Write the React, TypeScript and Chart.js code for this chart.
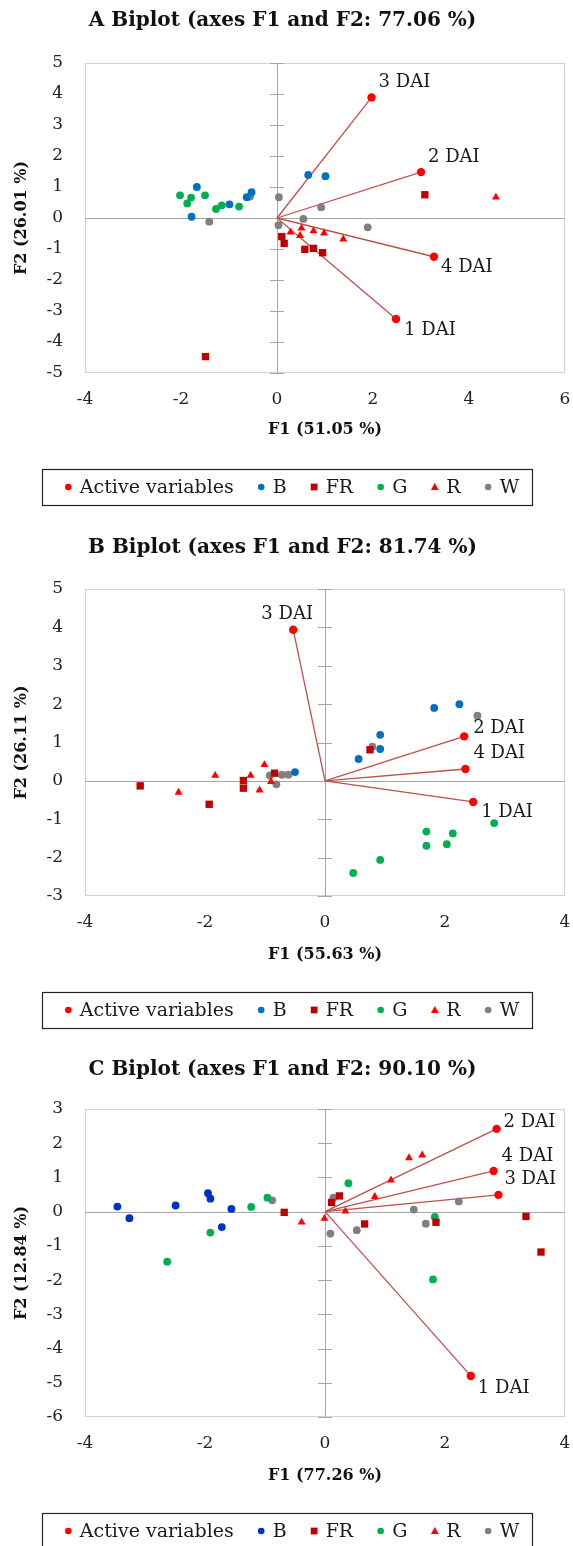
import React, { useEffect, useRef } from 'react';
import { Chart, registerables } from 'chart.js';

Chart.register(...registerables);

// ---------------- DATA ----------------
const GROUP_LABELS = ['Active variables', 'B', 'FR', 'G', 'R', 'W'];
const VAR_LABELS = ['1 DAI', '2 DAI', '3 DAI', '4 DAI'];

// Panel A
const A_TITLE = 'A Biplot (axes F1 and F2: 77.06 %)';
const A_X_TITLE = 'F1 (51.05 %)';
const A_Y_TITLE = 'F2 (26.01 %)';
const A_ACTIVE = [[2.48, -3.26], [3.0, 1.48], [1.97, 3.89], [3.27, -1.25]];
const A_B = [[-1.67, 1.0], [-1.78, 0.04], [-0.99, 0.44], [-0.63, 0.67], [-0.53, 0.83], [0.65, 1.39], [1.01, 1.35]];
const A_FR = [[0.1, -0.6], [0.15, -0.82], [0.58, -1.01], [0.76, -0.98], [0.95, -1.12], [3.08, 0.75], [-1.49, -4.47]];
const A_G = [[-2.02, 0.73], [-1.79, 0.66], [-1.87, 0.47], [-1.5, 0.73], [-1.27, 0.29], [-1.15, 0.41], [-0.79, 0.37]];
const A_R = [[0.28, -0.46], [0.51, -0.33], [0.48, -0.57], [0.76, -0.42], [0.98, -0.49], [1.38, -0.68], [4.56, 0.67]];
const A_W = [[-1.41, -0.12], [-0.56, 0.69], [0.04, 0.67], [0.03, -0.23], [0.55, -0.03], [0.92, 0.35], [1.89, -0.3]];

// Panel B
const B_TITLE = 'B Biplot (axes F1 and F2: 81.74 %)';
const B_X_TITLE = 'F1 (55.63 %)';
const B_Y_TITLE = 'F2 (26.11 %)';
const B_ACTIVE = [[2.47, -0.55], [2.32, 1.16], [-0.53, 3.94], [2.34, 0.31]];
const B_B = [[-0.5, 0.23], [0.56, 0.57], [0.92, 1.2], [0.92, 0.83], [1.82, 1.9], [2.24, 2.0]];
const B_FR = [[-3.08, -0.13], [-1.93, -0.61], [-1.36, 0.01], [-1.36, -0.19], [-0.84, 0.2], [0.75, 0.81]];
const B_G = [[2.82, -1.1], [1.69, -1.32], [2.13, -1.37], [1.69, -1.69], [2.03, -1.65], [0.92, -2.06], [0.47, -2.4]];
const B_R = [[-2.44, -0.3], [-1.83, 0.14], [-1.24, 0.14], [-1.01, 0.42], [-1.09, -0.24], [-0.9, -0.02]];
const B_W = [[-0.92, 0.14], [-0.81, -0.09], [-0.72, 0.16], [-0.61, 0.16], [0.79, 0.89], [2.54, 1.7]];

// Panel C
const C_TITLE = 'C Biplot (axes F1 and F2: 90.10 %)';
const C_X_TITLE = 'F1 (77.26 %)';
const C_Y_TITLE = 'F2 (12.84 %)';
const C_ACTIVE = [[2.43, -4.8], [2.86, 2.42], [2.89, 0.49], [2.81, 1.19]];
const C_B = [[-3.46, 0.15], [-3.26, -0.19], [-2.49, 0.18], [-1.95, 0.54], [-1.91, 0.38], [-1.56, 0.08], [-1.72, -0.45]];
const C_FR = [[-0.68, -0.02], [0.24, 0.46], [0.11, 0.27], [0.66, -0.36], [1.85, -0.31], [3.35, -0.14], [3.6, -1.18]];
const C_G = [[-2.63, -1.46], [-1.91, -0.61], [-1.23, 0.14], [-0.96, 0.41], [0.39, 0.83], [1.83, -0.15], [1.8, -1.98]];
const C_R = [[-0.39, -0.31], [-0.01, -0.2], [0.34, 0.01], [0.83, 0.44], [1.1, 0.92], [1.4, 1.57], [1.62, 1.65]];
const C_W = [[-0.88, 0.33], [0.14, 0.41], [0.09, -0.64], [0.53, -0.54], [1.48, 0.06], [1.68, -0.35], [2.23, 0.3]];

// Axis ranges [min, max, step]
const A_X_RANGE = [-4, 6, 2];
const A_Y_RANGE = [-5, 5, 1];
const B_X_RANGE = [-4, 4, 2];
const B_Y_RANGE = [-3, 5, 1];
const C_X_RANGE = [-4, 4, 2];
const C_Y_RANGE = [-6, 3, 1];

// ---------------- STYLE ----------------
const FONT = "'DejaVu Serif', 'Liberation Serif', serif";
const COL_ACTIVE = '#FF0000';
const COL_VECTOR = '#C0504D';
const COL_FR = '#C00000';
const COL_G = '#00B050';
const COL_R = '#FF0000';
const COL_W = '#808080';

type LabelPos = { dx: number; dy: number; align: CanvasTextAlign };
const A_LABEL_POS: LabelPos[] = [
  { dx: 8, dy: 11, align: 'left' },
  { dx: 7, dy: -15, align: 'left' },
  { dx: 7, dy: -15, align: 'left' },
  { dx: 7, dy: 11, align: 'left' },
];
const B_LABEL_POS: LabelPos[] = [
  { dx: 8, dy: 10, align: 'left' },
  { dx: 9, dy: -8, align: 'left' },
  { dx: -6, dy: -15, align: 'center' },
  { dx: 8, dy: -16, align: 'left' },
];
const C_LABEL_POS: LabelPos[] = [
  { dx: 7, dy: 12, align: 'left' },
  { dx: 7, dy: -7, align: 'left' },
  { dx: 6, dy: -16, align: 'left' },
  { dx: 8, dy: -15, align: 'left' },
];

type Layout = {
  top: number; height: number; titleY: number; plotTop: number; plotBottom: number;
  labelY: number; xTitleY: number; legendTop: number;
};

const toPts = (arr: number[][]) => arr.map(([x, y]) => ({ x, y }));

type PanelCfg = {
  title: string; xTitle: string; yTitle: string;
  xRange: number[]; yRange: number[];
  active: number[][]; groups: number[][][]; bColor: string;
  labelPos: LabelPos[]; layout: Layout;
};

const PANELS: PanelCfg[] = [
  {
    title: A_TITLE, xTitle: A_X_TITLE, yTitle: A_Y_TITLE, xRange: A_X_RANGE, yRange: A_Y_RANGE,
    active: A_ACTIVE, groups: [A_B, A_FR, A_G, A_R, A_W], bColor: '#0070C0', labelPos: A_LABEL_POS,
    layout: { top: 0, height: 520, titleY: 21, plotTop: 63, plotBottom: 373, labelY: 400, xTitleY: 430, legendTop: 469 },
  },
  {
    title: B_TITLE, xTitle: B_X_TITLE, yTitle: B_Y_TITLE, xRange: B_X_RANGE, yRange: B_Y_RANGE,
    active: B_ACTIVE, groups: [B_B, B_FR, B_G, B_R, B_W], bColor: '#0070C0', labelPos: B_LABEL_POS,
    layout: { top: 520, height: 522, titleY: 548, plotTop: 589, plotBottom: 896, labelY: 923, xTitleY: 955, legendTop: 992 },
  },
  {
    title: C_TITLE, xTitle: C_X_TITLE, yTitle: C_Y_TITLE, xRange: C_X_RANGE, yRange: C_Y_RANGE,
    active: C_ACTIVE, groups: [C_B, C_FR, C_G, C_R, C_W], bColor: '#0030C8', labelPos: C_LABEL_POS,
    layout: { top: 1042, height: 504, titleY: 1070, plotTop: 1109, plotBottom: 1417, labelY: 1444, xTitleY: 1476, legendTop: 1513 },
  },
];

const PLOT_LEFT = 85;
const PLOT_RIGHT = 565;
const W = 573;

function drawMarker(ctx: CanvasRenderingContext2D, style: string, x: number, y: number, r: number, color: string) {
  ctx.save();
  ctx.fillStyle = color;
  ctx.beginPath();
  if (style === 'rect') {
    ctx.rect(x - r, y - r, 2 * r, 2 * r);
  } else if (style === 'triangle') {
    ctx.moveTo(x, y - r * 1.1);
    ctx.lineTo(x + r * 1.1, y + r * 0.8);
    ctx.lineTo(x - r * 1.1, y + r * 0.8);
    ctx.closePath();
  } else {
    ctx.arc(x, y, r, 0, Math.PI * 2);
  }
  ctx.fill();
  ctx.restore();
}

function Panel({ cfg }: { cfg: PanelCfg }) {
  const ref = useRef<HTMLCanvasElement>(null);
  const L = cfg.layout;

  useEffect(() => {
    const loc = (v: number) => v - L.top;
    const titleSize = 20;
    const titleLH = titleSize * 1.2;
    const tickSize = 17;
    const tickLH = tickSize * 1.2;
    const axTitleSize = 16;
    const axTitleLH = axTitleSize * 1.2;
    const xScaleH = L.xTitleY + 14 - L.plotBottom;
    const padBottom = L.height - loc(L.plotBottom) - xScaleH;

    const groupColors = [cfg.bColor, COL_FR, COL_G, COL_R, COL_W];
    const groupStyles = ['circle', 'rect', 'circle', 'triangle', 'circle'];
    const groupRadius = [3.9, 5.2, 3.9, 4.6, 3.9];

    const datasets: any[] = [];
    datasets.push({
      label: GROUP_LABELS[0], data: toPts(cfg.active), backgroundColor: COL_ACTIVE, borderColor: COL_ACTIVE,
      pointStyle: 'circle', pointRadius: 4.2, pointBorderWidth: 0, order: 0,
    });
    cfg.groups.forEach((g, i) => {
      datasets.push({
        label: GROUP_LABELS[i + 1], data: toPts(g), backgroundColor: groupColors[i], borderColor: groupColors[i],
        pointStyle: groupStyles[i], pointRadius: groupRadius[i], pointBorderWidth: 0, order: 1 + i,
      });
    });
    cfg.active.forEach(([x, y], i) => {
      datasets.push({
        label: 'vec ' + VAR_LABELS[i], data: [{ x: 0, y: 0 }, { x, y }], showLine: true,
        borderColor: COL_VECTOR, borderWidth: 1.3, pointRadius: 0, order: 20,
      });
    });

    const framePlugin = {
      id: 'frame',
      beforeDatasetsDraw(chart: any) {
        const { ctx, chartArea: a, scales } = chart;
        ctx.save();
        ctx.strokeStyle = '#D4D4D4';
        ctx.lineWidth = 1.2;
        ctx.strokeRect(a.left + 0.5, a.top + 0.5, a.right - a.left - 1, a.bottom - a.top - 1);
        const x0 = scales.x.getPixelForValue(0);
        const y0 = scales.y.getPixelForValue(0);
        ctx.strokeStyle = '#A6A6A6';
        ctx.lineWidth = 1;
        ctx.beginPath();
        ctx.moveTo(a.left, Math.round(y0) + 0.5);
        ctx.lineTo(a.right, Math.round(y0) + 0.5);
        ctx.moveTo(Math.round(x0) + 0.5, a.top);
        ctx.lineTo(Math.round(x0) + 0.5, a.bottom);
        for (let v = cfg.yRange[0]; v <= cfg.yRange[1]; v += cfg.yRange[2]) {
          const py = Math.round(scales.y.getPixelForValue(v)) + 0.5;
          ctx.moveTo(x0 - 7, py);
          ctx.lineTo(x0 + 7, py);
        }
        ctx.stroke();
        ctx.restore();
      },
    };

    const labelPlugin = {
      id: 'varLabels',
      afterDatasetsDraw(chart: any) {
        const { ctx, scales } = chart;
        ctx.save();
        ctx.font = `18px ${FONT}`;
        ctx.fillStyle = '#1a1a1a';
        ctx.textBaseline = 'middle';
        cfg.active.forEach(([x, y], i) => {
          const p = cfg.labelPos[i];
          ctx.textAlign = p.align;
          ctx.fillText(VAR_LABELS[i], scales.x.getPixelForValue(x) + p.dx, scales.y.getPixelForValue(y) + p.dy);
        });
        ctx.restore();
      },
    };

    const legendPlugin = {
      id: 'boxLegend',
      afterDraw(chart: any) {
        const { ctx } = chart;
        const top = loc(L.legendTop);
        const boxL = 42, boxR = 532, boxH = 36;
        ctx.save();
        ctx.strokeStyle = '#222';
        ctx.lineWidth = 1.2;
        ctx.strokeRect(boxL + 0.5, top + 0.5, boxR - boxL, boxH);
        ctx.font = `19px ${FONT}`;
        ctx.textBaseline = 'middle';
        ctx.textAlign = 'left';
        const markerW = 7, gap = 8, sep = 24;
        const widths = GROUP_LABELS.map((t) => ctx.measureText(t).width);
        const total = widths.reduce((s, w) => s + w + markerW + gap, 0) + sep * (GROUP_LABELS.length - 1);
        let x = (boxL + boxR) / 2 - total / 2 + 5;
        const cy = top + 18;
        const colors = [COL_ACTIVE, cfg.bColor, COL_FR, COL_G, COL_R, COL_W];
        const styles = ['circle', 'circle', 'rect', 'circle', 'triangle', 'circle'];
        const radii = [3.3, 3.3, 3.4, 3.3, 3.6, 3.3];
        GROUP_LABELS.forEach((t, i) => {
          drawMarker(ctx, styles[i], x + markerW / 2, cy, radii[i], colors[i]);
          ctx.fillStyle = '#1a1a1a';
          ctx.fillText(t, x + markerW + gap, cy + 1);
          x += markerW + gap + widths[i] + sep;
        });
        ctx.restore();
      },
    };

    const chart = new Chart(ref.current as HTMLCanvasElement, {
      type: 'scatter',
      data: { datasets },
      plugins: [framePlugin, labelPlugin, legendPlugin],
      options: {
        responsive: false,
        animation: false,
        events: [],
        layout: { padding: { top: 0, left: 0, right: W - PLOT_RIGHT, bottom: padBottom } },
        plugins: {
          legend: { display: false },
          tooltip: { enabled: false },
          title: {
            display: true,
            text: cfg.title,
            color: '#111',
            font: { family: FONT, size: titleSize, weight: 'bold', lineHeight: 1.2 },
            padding: { top: loc(L.titleY) - titleLH / 2, bottom: L.plotTop - L.titleY - titleLH / 2 },
          },
        },
        scales: {
          x: {
            type: 'linear',
            position: 'bottom',
            min: cfg.xRange[0],
            max: cfg.xRange[1],
            ticks: {
              stepSize: cfg.xRange[2],
              color: '#222',
              font: { family: FONT, size: tickSize, lineHeight: 1.2 },
              padding: L.labelY - L.plotBottom - tickLH / 2,
              maxRotation: 0,
            },
            grid: { display: false, drawTicks: false },
            border: { display: false },
            title: {
              display: true,
              text: cfg.xTitle,
              color: '#111',
              font: { family: FONT, size: axTitleSize, weight: 'bold', lineHeight: 1.2 },
              padding: { top: 0, bottom: 14 - axTitleLH / 2 },
            },
            afterFit: (s: any) => {
              s.height = xScaleH;
              s.paddingLeft = 0;
              s.paddingRight = 0;
            },
          },
          y: {
            type: 'linear',
            position: 'left',
            min: cfg.yRange[0],
            max: cfg.yRange[1],
            ticks: {
              stepSize: cfg.yRange[2],
              color: '#222',
              font: { family: FONT, size: tickSize, lineHeight: 1.2 },
              padding: 22,
            },
            grid: { display: false, drawTicks: false },
            border: { display: false },
            title: {
              display: true,
              text: cfg.yTitle,
              color: '#111',
              font: { family: FONT, size: axTitleSize, weight: 'bold', lineHeight: 1.2 },
              padding: { top: 22 - axTitleLH / 2, bottom: 0 },
            },
            afterFit: (s: any) => {
              s.width = PLOT_LEFT;
              s.paddingTop = 0;
              s.paddingBottom = 0;
            },
          },
        },
      } as any,
    });
    return () => chart.destroy();
  }, []);

  return (
    <canvas
      ref={ref}
      width={W}
      height={L.height}
      style={{ position: 'absolute', left: 0, top: L.top, width: W, height: L.height, display: 'block' }}
    />
  );
}

export default function App() {
  return (
    <div style={{ position: 'absolute', left: 0, top: 0, width: W, height: 1546, background: '#fff', overflow: 'hidden' }}>
      {PANELS.map((p, i) => (
        <Panel key={i} cfg={p} />
      ))}
    </div>
  );
}
